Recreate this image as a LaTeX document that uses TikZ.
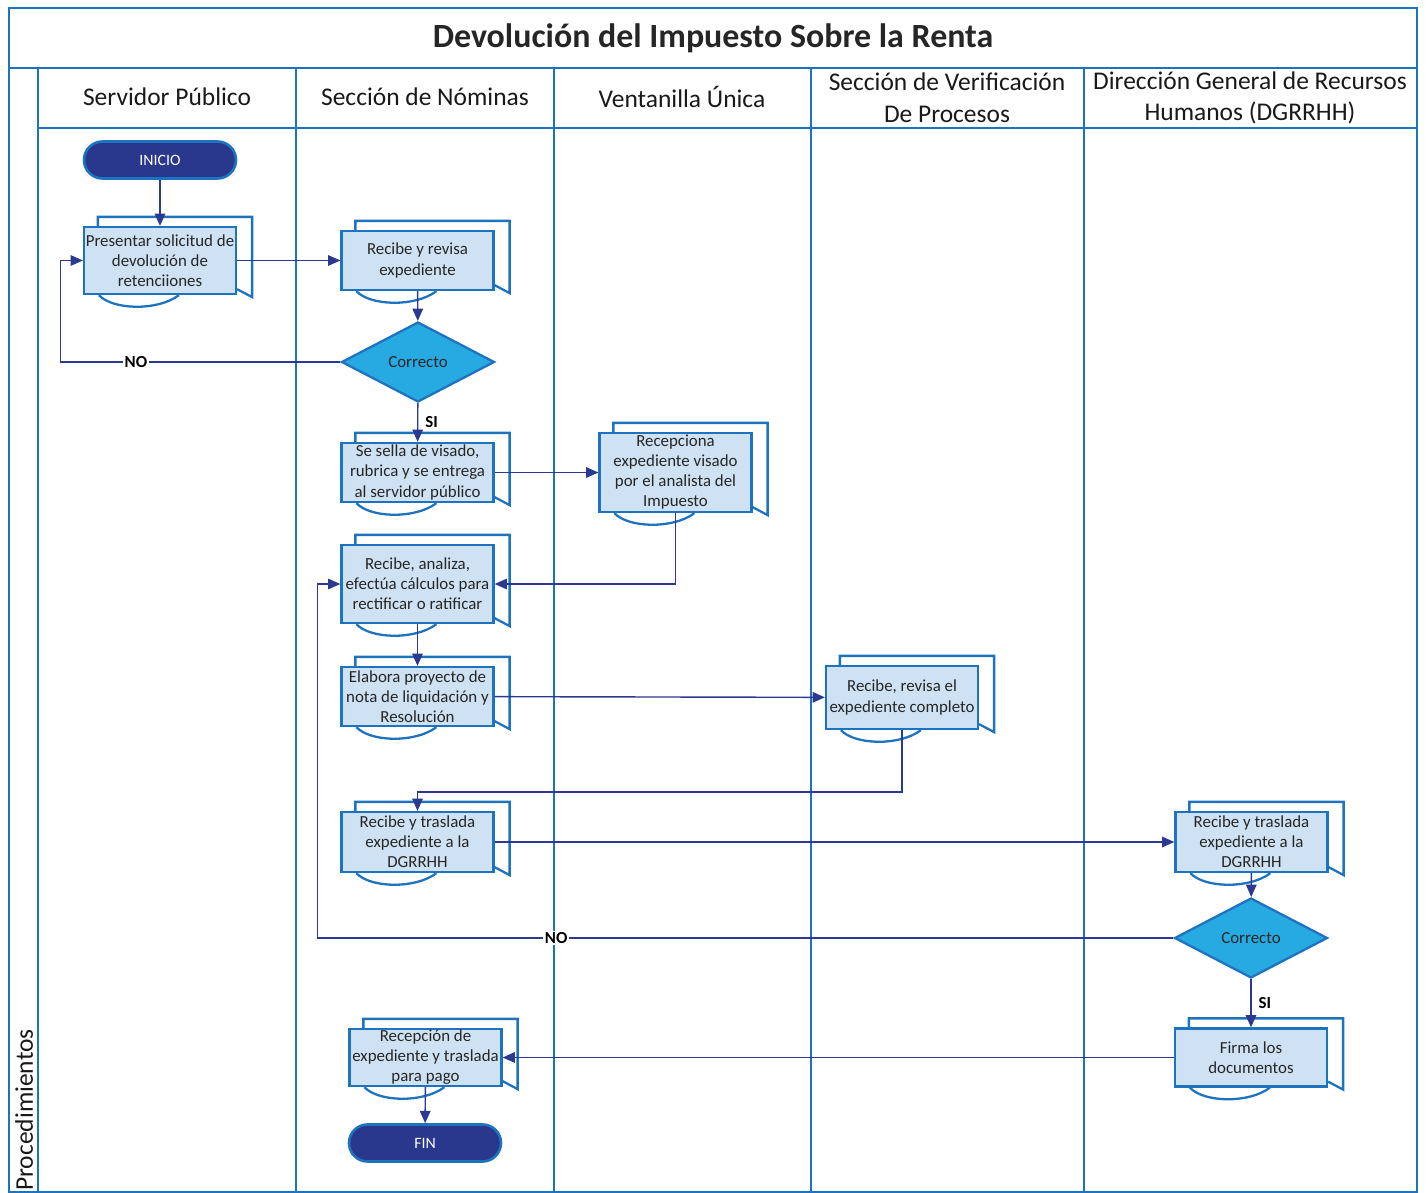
\documentclass[tikz,border=0pt]{standalone}
\usepackage{fontspec}
\setmainfont{Carlito}
\usetikzlibrary{shapes.geometric, arrows.meta, calc}
\definecolor{laneblue}{RGB}{30,115,190}
\definecolor{docfill}{RGB}{207,226,243}
\definecolor{termnavy}{RGB}{41,56,140}
\definecolor{decfill}{RGB}{39,170,225}
\definecolor{flowblue}{RGB}{43,57,144}

% back sheet and wavy bottom of a document node
\newcommand{\docstack}[1]{%
  \draw[laneblue, line width=1.3pt] ($(#1.north west)+(15,0)$) -- ++(0,-9) -| ($(#1.south east)+(15,2)$) -- ($(#1.south east)+(0,-6)$);
  \draw[laneblue, line width=1.3pt] ($(#1.south west)+(16,0)$) .. controls ($(#1.south west)+(30,15)$) and ($(#1.south west)+(75,16)$) .. ($(#1.south west)+(96,0)$);
}

\begin{document}
\begin{tikzpicture}[x=0.02cm, y=-0.02cm,
  lane/.style={draw=laneblue, line width=1.6pt},
  head/.style={font=\fontsize{14.5}{18}\selectfont, align=center, text=black!90},
  doc/.style={draw=laneblue, line width=1.3pt, fill=docfill, minimum width=3.04cm, align=center, inner sep=0pt, font=\fontsize{9.6}{11.4}\selectfont, text=black!85},
  term/.style={rectangle, rounded corners=0.37cm, draw=laneblue, line width=1.5pt, fill=termnavy, text=white, minimum width=3.04cm, minimum height=0.74cm, font=\fontsize{9}{10}\selectfont},
  decision/.style={diamond, draw=laneblue, line width=1.3pt, fill=decfill, minimum width=3.06cm, minimum height=1.6cm, inner sep=0pt, font=\fontsize{9.6}{11}\selectfont, text=black!85},
  flow/.style={draw=flowblue, line width=0.8pt, -{Triangle[length=7pt,width=6pt]}},
  lbl/.style={font=\bfseries\fontsize{9.6}{11}\selectfont, inner sep=1pt}
]
  \useasboundingbox (0,0) rectangle (1428,1193);

  % swimlanes
  \draw[lane] (9,8) rectangle (1417,1192);
  \draw[lane] (9,68) -- (1417,68);
  \draw[lane] (38,128) -- (1417,128);
  \foreach \x in {38,296,554,811,1084}
    \draw[lane] (\x,68) -- (\x,1192);

  \node[font=\bfseries\fontsize{19.3}{22}\selectfont, text=black!85] (titulo) at (713,38) {Devolución del Impuesto Sobre la Renta};
  \node[head] (servidor) at (167,97) {Servidor Público};
  \node[head] (nominas) at (425,97) {Sección de Nóminas};
  \node[head] (ventanilla) at (682,97) {Ventanilla Única};
  \node[head] (verificacion) at (947,98) {Sección de Verificación\\De Procesos};
  \node[head] (direccion) at (1250,98) {Dirección General de Recursos\\Humanos (DGRRHH)};
  \node[head, rotate=90] (proc) at (24,1110) {Procedimientos};

  % steps
  \node[term] (inicio) at (160,160) {INICIO};
  \node[doc, minimum height=1.34cm] (presentar) at (160,260.5) {Presentar solicitud de\\devolución de\\retenciiones};
  \node[doc, minimum height=1.18cm] (revisa) at (417.5,260.5) {Recibe y revisa\\expediente};
  \node[decision] (correcto1) at (418,362) {Correcto};
  \node[doc, minimum height=1.18cm] (sella) at (417.5,472.5) {Se sella de visado,\\rubrica y se entrega\\al servidor público};
  \node[doc, minimum height=1.58cm] (recepciona) at (675.5,472.5) {Recepciona\\expediente visado\\por el analista del\\Impuesto};
  \node[doc, minimum height=1.56cm] (analiza) at (417.5,584) {Recibe, analiza,\\efectúa cálculos para\\rectificar o ratificar};
  \node[doc, minimum height=1.18cm] (elabora) at (417.5,696.5) {Elabora proyecto de\\nota de liquidación y\\Resolución};
  \node[doc, minimum height=1.26cm] (verifica) at (902,697.5) {Recibe, revisa el\\expediente completo};
  \node[doc, minimum height=1.2cm] (traslada) at (417.5,842) {Recibe y traslada\\expediente a la\\DGRRHH};
  \node[doc, minimum height=1.2cm] (dgrrhh) at (1251.5,842) {Recibe y traslada\\expediente a la\\DGRRHH};
  \node[decision] (correcto2) at (1251,938) {Correcto};
  \node[doc, minimum height=1.16cm] (firma) at (1251,1057.5) {Firma los\\documentos};
  \node[doc, minimum height=1.14cm] (pago) at (425.5,1057.5) {Recepción de\\expediente y traslada\\para pago};
  \node[term] (fin) at (425,1143) {FIN};

  \foreach \n in {presentar,revisa,sella,recepciona,analiza,elabora,verifica,traslada,dgrrhh,firma,pago}
    {\docstack{\n}}

  % flow
  \draw[flow] (inicio) -- (presentar);
  \draw[flow] (presentar) -- (revisa);
  \draw[flow] (revisa) -- (correcto1);
  \draw[flow] (correcto1.west) -- node[lbl, fill=white, pos=0.73] {NO} ++(-280,0) |- (presentar.west);
  \draw[flow] (correcto1) -- node[lbl, right=3pt] {SI} (sella);
  \draw[flow] (sella) -- (recepciona);
  \draw[flow] (recepciona.south) |- (analiza.east);
  \draw[flow] (analiza) -- (elabora);
  \draw[flow] (elabora) -- (verifica);
  \draw[flow] (verifica.south) -- ++(0,62) -| (traslada.north);
  \draw[flow] (traslada) -- (dgrrhh);
  \draw[flow] (dgrrhh) -- (correcto2);
  \draw[flow] (correcto2.west) -- node[lbl, fill=white, pos=0.721] {NO} ++(-856,0) |- (analiza.west);
  \draw[flow] (correcto2) -- node[lbl, right=3pt] {SI} (firma);
  \draw[flow] (firma) -- (pago);
  \draw[flow] (pago) -- (fin);
\end{tikzpicture}
\end{document}
